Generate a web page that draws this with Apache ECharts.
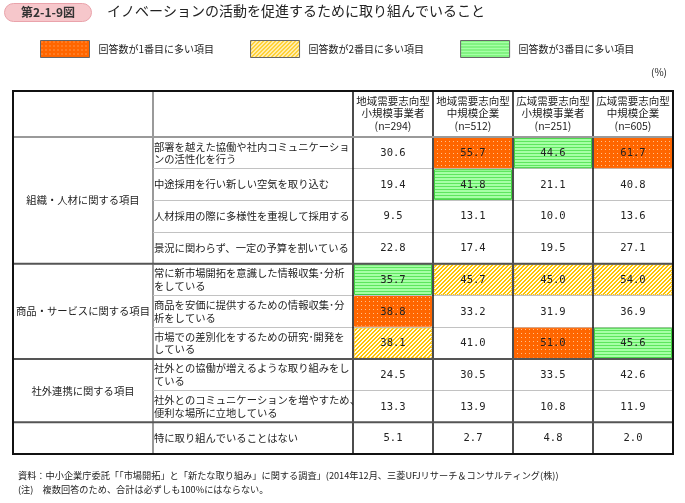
<!DOCTYPE html>
<html><head><meta charset="utf-8">
<script src="https://cdn.jsdelivr.net/npm/echarts@6/dist/echarts.min.js"></script>
<style>html,body{margin:0;padding:0;background:#fff}#c{width:685px;height:503px}</style>
</head><body><div id="c"></div>
<script>
// ---------- data ----------
const figureLabel = '第2-1-9図';
const titleText = 'イノベーションの活動を促進するために取り組んでいること';
const legendNames = ['回答数が1番目に多い項目', '回答数が2番目に多い項目', '回答数が3番目に多い項目'];
const columnHeaders = [
  '地域需要志向型\n小規模事業者\n(n=294)',
  '地域需要志向型\n中規模企業\n(n=512)',
  '広域需要志向型\n小規模事業者\n(n=251)',
  '広域需要志向型\n中規模企業\n(n=605)'
];
const items = [
  '部署を越えた協働や社内コミュニケーショ\nンの活性化を行う',
  '中途採用を行い新しい空気を取り込む',
  '人材採用の際に多様性を重視して採用する',
  '景況に関わらず、一定の予算を割いている',
  '常に新市場開拓を意識した情報収集･分析\nをしている',
  '商品を安価に提供するための情報収集･分\n析をしている',
  '市場での差別化をするための研究･開発を\nしている',
  '社外との協働が増えるような取り組みをし\nている',
  '社外とのコミュニケーションを増やすため、\n便利な場所に立地している',
  '特に取り組んでいることはない'
];
const groupNames = ['組織・人材に関する項目', '商品・サービスに関する項目', '社外連携に関する項目', ''];
const groupFirstRow = [0, 4, 7, 9];
const groupLastRow = [3, 6, 8, 9];
const localSmall = [30.6, 19.4, 9.5, 22.8, 35.7, 38.8, 38.1, 24.5, 13.3, 5.1];
const localMedium = [55.7, 41.8, 13.1, 17.4, 45.7, 33.2, 41.0, 30.5, 13.9, 2.7];
const wideSmall = [44.6, 21.1, 10.0, 19.5, 45.0, 31.9, 51.0, 33.5, 10.8, 4.8];
const wideMedium = [61.7, 40.8, 13.6, 27.1, 54.0, 36.9, 45.6, 42.6, 11.9, 2.0];
const unitLabel = '(%)';
const sourceNote = '資料：中小企業庁委託「「市場開拓」と「新たな取り組み」に関する調査」(2014年12月、三菱UFJリサーチ＆コンサルティング(株))';
const remarkNote = '(注)　複数回答のため、合計は必ずしも100%にはならない。';

// ---------- patterns ----------
function makePattern(w, h, fn) {
  const cv = document.createElement('canvas'); cv.width = w; cv.height = h;
  const ctx = cv.getContext('2d');
  for (let y = 0; y < h; y++) for (let x = 0; x < w; x++) { ctx.fillStyle = fn(x, y); ctx.fillRect(x, y, 1, 1); }
  return { image: cv, repeat: 'repeat' };
}
const patOrange = makePattern(4, 4, (x, y) => (x === 1 && y === 1) ? '#ffc08a' : '#ff6600');
const patYellow = makePattern(4, 4, (x, y) => ((x + y) % 4 < 2) ? '#ffc400' : '#fffbe8');
const patGreen = makePattern(1, 3, (x, y) => y === 0 ? '#5ee65e' : '#a6ffa6');
const patterns = [patOrange, patYellow, patGreen];
const strokes = ['#ff6600', '#f0b400', '#3fcf3f'];

// ---------- build ----------
const FONT = '"Noto Sans CJK JP", "Noto Sans", sans-serif';
const columns = [localSmall, localMedium, wideSmall, wideMedium];
const ranks = columns.map(c => {
  const s = [...c].sort((a, b) => b - a);
  return c.map(v => { const r = s.indexOf(v); return r < 3 ? r + 1 : 0; });
});
const seriesData = [[], [], [], []];
columns.forEach((c, ci) => c.forEach((v, ri) => seriesData[ranks[ci][ri]].push([ci, ri, v])));

function cellRender(rank) {
  return function (params, api) {
    const ci = api.value(0), ri = api.value(1), v = api.value(2);
    const c = api.coord([ci, ri]);
    const s = api.size([1, 1]);
    const ch = [];
    if (rank > 0) {
      ch.push({
        type: 'rect',
        shape: { x: c[0] - s[0] / 2 + 1.5, y: c[1] - s[1] / 2 + 1, width: s[0] - 3, height: s[1] - 2 },
        style: { fill: patterns[rank - 1], stroke: strokes[rank - 1], lineWidth: 1, lineDash: rank === 2 ? [1, 1] : null }
      });
    }
    ch.push({
      type: 'text', x: c[0], y: c[1] + 0.5,
      style: { text: v.toFixed(1), fill: '#222', font: '10.5px "DejaVu Sans Mono", monospace', align: 'center', verticalAlign: 'middle' }
    });
    return { type: 'group', children: ch };
  };
}

function groupRender(withLabel) {
  return function (params, api) {
    const i = params.dataIndex;
    const cs = params.coordSys;
    const h = api.size([0, 1])[1];
    const top = api.coord([0, groupFirstRow[i]])[1] - h / 2;
    const bottom = api.coord([0, groupLastRow[i]])[1] + h / 2;
    const ch = [{
      type: 'line',
      shape: { x1: cs.x, y1: top, x2: cs.x + cs.width, y2: top },
      style: { stroke: i === 0 ? '#9a9a9a' : '#555', lineWidth: 2 }
    }];
    if (withLabel && groupNames[i]) {
      ch.push({
        type: 'text', x: cs.x + cs.width / 2, y: (top + bottom) / 2,
        style: { text: groupNames[i], fill: '#222', font: '10.3px ' + FONT, align: 'center', verticalAlign: 'middle' }
      });
    }
    return { type: 'group', children: ch };
  };
}

const rowIdx = items.map((_, i) => i);
const hiddenCat = (gi, data) => ({ type: 'category', gridIndex: gi, data: data, show: false });

const option = {
  animation: false,
  backgroundColor: '#fff',
  title: [
    { text: figureLabel, left: 4, top: 3, padding: [3, 17, 3, 17], backgroundColor: '#f6c7cb', borderColor: '#eaa3ab', borderWidth: 1, borderRadius: 10,
      textStyle: { fontSize: 12, fontWeight: 'bold', color: '#333', fontFamily: FONT, lineHeight: 13 } },
    { text: titleText, left: 107, top: 4, padding: 0,
      textStyle: { fontSize: 14, fontWeight: 'normal', color: '#222', fontFamily: FONT } }
  ],
  legend: {
    left: 40, top: 40, padding: 0, itemWidth: 49, itemHeight: 17, itemGap: 36, icon: 'rect', selectedMode: false,
    data: legendNames,
    textStyle: { fontSize: 10, color: '#222', fontFamily: FONT, width: 116, padding: [0, 0, 0, 4] },
    itemStyle: { borderColor: '#666', borderWidth: 1 }
  },
  graphic: [
    { type: 'text', right: 18, top: 67, style: { text: unitLabel, font: '10px ' + FONT, fill: '#222' } },
    { type: 'text', left: 18, top: 471, style: { text: sourceNote, font: '9.2px ' + FONT, fill: '#222' } },
    { type: 'text', left: 18, top: 485, style: { text: remarkNote, font: '9.2px ' + FONT, fill: '#222' } }
  ],
  grid: [
    { left: 353, top: 137, width: 320, height: 317, outerBoundsMode: 'none' },
    { left: 353, top: 91, width: 320, height: 46, outerBoundsMode: 'none' },
    { left: 153, top: 137, width: 200, height: 317, outerBoundsMode: 'none' },
    { left: 13, top: 137, width: 140, height: 317, outerBoundsMode: 'none', show: true, borderColor: '#9a9a9a', borderWidth: 2, backgroundColor: 'transparent' },
    { left: 13, top: 91, width: 140, height: 46, outerBoundsMode: 'none', show: true, borderColor: '#9a9a9a', borderWidth: 2, backgroundColor: 'transparent' },
    { left: 13, top: 91, width: 660, height: 363, outerBoundsMode: 'none', show: true, borderColor: '#111', borderWidth: 2, backgroundColor: 'transparent', z: 10 }
  ],
  xAxis: [
    { type: 'category', gridIndex: 0, position: 'top', data: columnHeaders,
      axisLine: { show: false }, axisTick: { show: false },
      axisLabel: { interval: 0, margin: 5, fontSize: 10.5, lineHeight: 12.5, color: '#222', fontFamily: FONT },
      splitLine: { show: true, interval: 0, lineStyle: { color: '#111', width: 1.5 } } },
    { type: 'category', gridIndex: 1, data: columnHeaders.map((_, i) => i),
      axisLine: { show: false }, axisTick: { show: false }, axisLabel: { show: false },
      splitLine: { show: true, interval: 0, lineStyle: { color: '#111', width: 1.5 } } },
    hiddenCat(2, ['']),
    hiddenCat(3, ['']),
    hiddenCat(4, ['']),
    hiddenCat(5, [''])
  ],
  yAxis: [
    { type: 'category', gridIndex: 0, inverse: true, data: rowIdx,
      axisLine: { show: false }, axisTick: { show: false }, axisLabel: { show: false },
      splitLine: { show: true, interval: 0, lineStyle: { color: '#c2c2c2', width: 1 } } },
    hiddenCat(1, ['']),
    { type: 'category', gridIndex: 2, inverse: true, data: items,
      axisLine: { show: false }, axisTick: { show: false },
      axisLabel: { inside: true, interval: 0, margin: 1, fontSize: 10.3, lineHeight: 12.5, color: '#222', fontFamily: FONT, align: 'left' },
      splitLine: { show: true, interval: 0, lineStyle: { color: '#c2c2c2', width: 1 } } },
    { type: 'category', gridIndex: 3, inverse: true, data: rowIdx, show: false },
    hiddenCat(4, ['']),
    hiddenCat(5, [''])
  ],
  series: [
    { type: 'custom', name: 'normal', xAxisIndex: 0, yAxisIndex: 0, data: seriesData[0], renderItem: cellRender(0), z: 2, encode: { x: 0, y: 1 } },
    { type: 'custom', name: legendNames[0], xAxisIndex: 0, yAxisIndex: 0, data: seriesData[1], renderItem: cellRender(1), z: 2, encode: { x: 0, y: 1 }, itemStyle: { color: patOrange } },
    { type: 'custom', name: legendNames[1], xAxisIndex: 0, yAxisIndex: 0, data: seriesData[2], renderItem: cellRender(2), z: 2, encode: { x: 0, y: 1 }, itemStyle: { color: patYellow } },
    { type: 'custom', name: legendNames[2], xAxisIndex: 0, yAxisIndex: 0, data: seriesData[3], renderItem: cellRender(3), z: 2, encode: { x: 0, y: 1 }, itemStyle: { color: patGreen } },
    { type: 'custom', name: 'g0', xAxisIndex: 0, yAxisIndex: 0, data: groupFirstRow.map(r => [0, r]), renderItem: groupRender(false), z: 4, encode: { x: 0, y: 1 } },
    { type: 'custom', name: 'g2', xAxisIndex: 2, yAxisIndex: 2, data: groupFirstRow.map(r => [0, r]), renderItem: groupRender(false), z: 4, encode: { x: 0, y: 1 } },
    { type: 'custom', name: 'g3', xAxisIndex: 3, yAxisIndex: 3, data: groupFirstRow.map(r => [0, r]), renderItem: groupRender(true), z: 4, encode: { x: 0, y: 1 } }
  ]
};
const chart = echarts.init(document.getElementById('c'), null, { renderer: 'canvas' });
chart.setOption(option);
</script>
</body></html>
